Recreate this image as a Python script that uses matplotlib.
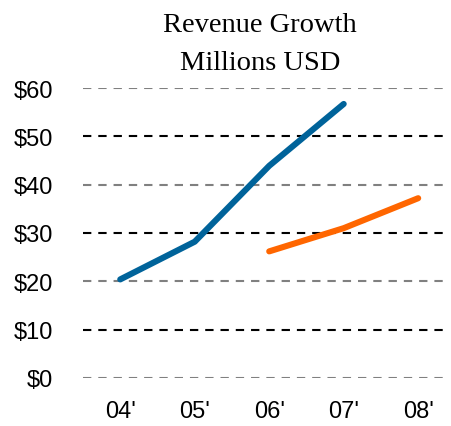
import matplotlib
matplotlib.use("Agg")
import matplotlib.pyplot as plt

plt.rcParams['lines.scale_dashes'] = False

# Данные
years = ["04'", "05'", "06'", "07'", "08'"]
blue_x = [0, 1, 2, 3]
blue_vals = [20.4, 28.2, 43.9, 56.7]
orange_x = [2, 3, 4]
orange_vals = [26.2, 31.0, 37.2]
y_ticks = [0, 10, 20, 30, 40, 50, 60]
y_labels = ["$0", "$10", "$20", "$30", "$40", "$50", "$60"]

W, H = 452, 427
fig = plt.figure(figsize=(W / 100, H / 100), dpi=100)
ax = fig.add_axes([83 / W, (H - 379) / H, (445 - 83) / W, (379 - 89) / H])

# Сетка: серые и чёрные пунктирные линии через одну
for v in y_ticks:
    col = '#808080' if v % 20 == 0 else 'black'
    ax.axhline(v, color=col, lw=1.5, linestyle=(0, (6, 5)), zorder=1)

ax.plot(blue_x, blue_vals, color='#00639A', lw=4.4, solid_capstyle='round',
        solid_joinstyle='round', clip_on=False, zorder=3)
ax.plot(orange_x, orange_vals, color='#FF6600', lw=4.4, solid_capstyle='round',
        solid_joinstyle='round', clip_on=False, zorder=3)

ax.set_xlim(-0.5, 4.36)
ax.set_ylim(0, 60)
ax.set_xticks(range(len(years)))
ax.set_xticklabels(years, fontsize=17, family='Liberation Sans')
ax.set_yticks(y_ticks)
ax.set_yticklabels(y_labels, fontsize=17, family='Liberation Sans')
ax.tick_params(length=0)
ax.tick_params(axis='x', pad=15.5)
ax.tick_params(axis='y', pad=21.5)
for s in ax.spines.values():
    s.set_visible(False)

fig.text(260 / W, 1 - 32 / H, "Revenue Growth", ha='center', va='baseline',
         fontsize=20.5, family='Liberation Serif')
fig.text(260 / W, 1 - 70 / H, "Millions USD", ha='center', va='baseline',
         fontsize=20.5, family='Liberation Serif')

fig.savefig("out.png", dpi=100)
